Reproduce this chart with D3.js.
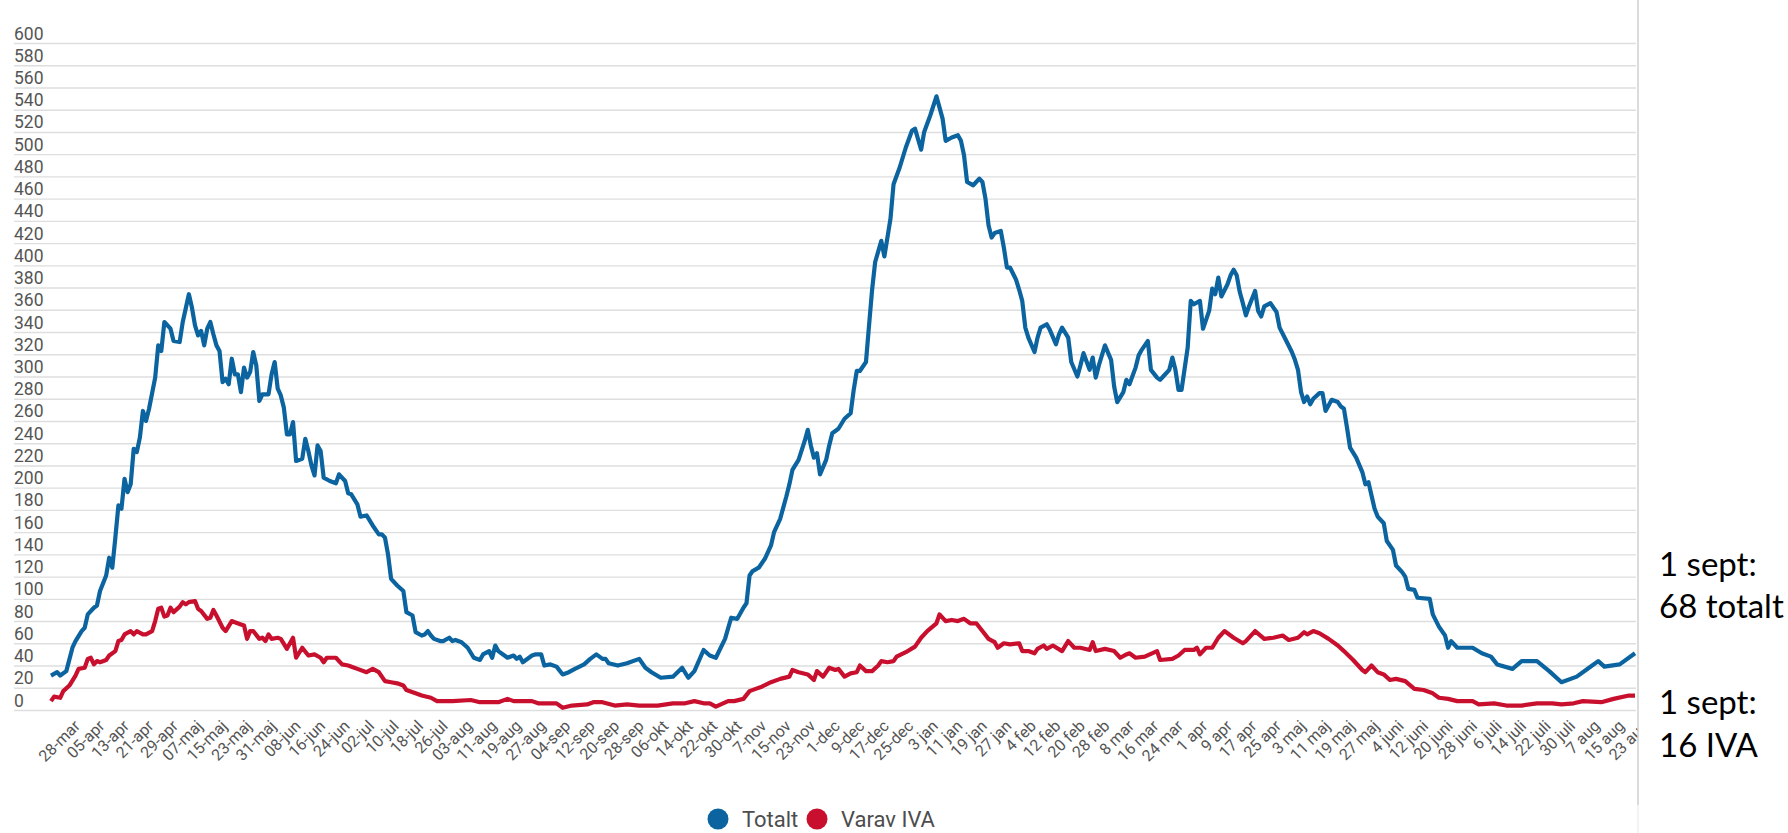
<!DOCTYPE html>
<html>
<head>
<meta charset="utf-8">
<script src="https://cdn.jsdelivr.net/npm/d3@7/dist/d3.min.js"></script>
<style>
  body { margin: 0; background: #fff; }
  svg { display: block; }
</style>
</head>
<body>
<svg width="1788" height="833"></svg>
<script>
// days counted from the first data point, 2020-03-19
const startDate = Date.UTC(2020, 2, 19);
const lastDay = 517;

const totaltDays = [0,2,3,5,7,8,10,11,12,14,15,16,18,19,20,21,22,23,24,25,26,27,28,29,30,31,32,34,35,36,37,39,40,42,43,45,46,47,48,49,50,51,52,53,54,55,56,57,58,59,60,61,62,63,64,65,66,67,68,69,71,72,73,74,75,76,77,78,79,80,82,83,84,85,86,87,88,89,91,93,94,96,97,98,100,101,103,105,107,108,109,110,111,113,115,116,118,119,121,122,123,124,125,127,128,130,131,132,134,136,138,140,141,143,144,145,146,148,149,151,152,153,154,157,158,160,161,163,165,167,169,171,174,176,178,180,181,182,185,188,192,194,196,199,203,206,208,210,213,215,217,220,222,224,226,227,228,229,231,233,235,236,238,240,241,242,244,246,247,248,249,250,251,253,254,255,257,259,261,262,263,264,266,267,268,269,271,272,274,275,277,279,281,282,284,285,287,289,291,292,294,296,297,298,299,301,303,304,305,306,307,308,310,311,312,313,315,316,317,318,319,321,322,323,325,326,328,329,330,332,333,335,336,337,339,340,341,342,344,346,347,348,350,351,352,354,355,356,358,359,361,362,363,365,366,367,368,369,371,372,373,375,376,378,379,380,381,382,384,385,386,387,388,389,390,391,393,394,395,396,398,399,400,401,403,405,406,407,408,409,410,411,412,414,415,416,418,420,421,422,423,424,426,428,429,430,432,433,435,436,438,439,441,442,443,445,446,450,451,453,455,456,457,459,464,467,470,472,477,480,485,489,493,498,502,505,507,512,517];
const totaltValues = [31,34,31,35,56,62,71,74,86,92,94,107,121,137,128,155,184,181,208,196,203,235,232,245,269,260,271,299,328,323,349,343,332,331,349,374,362,346,337,341,328,343,349,338,328,323,295,298,293,316,302,302,286,308,299,304,322,310,278,284,284,302,313,289,283,272,248,248,259,224,226,244,233,220,211,238,233,209,206,204,212,206,195,194,185,174,175,166,158,158,155,140,118,112,107,88,85,70,67,68,71,67,64,62,62,65,62,63,61,56,47,45,50,53,47,58,53,49,47,49,46,48,43,49,50,50,40,41,39,32,34,37,41,46,50,46,46,42,40,42,46,38,34,29,30,38,29,35,54,49,47,64,83,82,92,96,121,125,128,136,148,160,172,192,203,216,225,242,252,238,227,231,212,225,238,249,253,262,267,288,305,305,313,346,378,403,422,408,442,473,488,506,521,523,504,520,535,552,532,512,515,517,512,499,475,472,478,475,460,436,425,429,431,416,398,398,387,378,368,344,335,322,335,344,347,342,329,338,344,335,313,300,310,321,306,317,299,310,328,315,291,277,286,297,293,308,319,324,332,306,299,297,300,306,317,306,288,288,326,368,365,368,343,359,379,374,389,372,383,391,396,391,376,366,355,363,377,359,354,363,366,362,358,344,333,322,315,306,286,277,282,275,280,285,285,269,279,277,273,271,254,236,227,214,203,205,181,174,168,152,144,130,124,120,109,108,101,100,86,75,67,56,62,56,56,51,48,41,37,44,44,35,25,30,38,44,39,41,51];

const ivaDays = [0,1,3,4,6,8,9,11,12,13,14,15,16,18,19,21,22,23,24,26,27,28,30,31,33,34,35,36,37,38,39,40,42,43,44,45,47,48,49,51,52,53,54,56,57,59,60,62,63,64,65,66,68,69,70,71,72,74,75,77,79,80,82,84,86,88,89,90,93,95,97,99,100,103,105,107,109,111,113,115,116,119,121,124,126,129,131,137,140,146,149,151,157,159,165,167,170,175,177,180,184,188,192,198,203,207,210,213,215,217,221,223,226,228,230,232,235,238,241,242,244,247,249,250,252,254,256,257,259,261,263,264,266,268,270,271,273,275,276,279,282,284,286,289,290,292,294,296,298,300,302,304,306,308,309,311,313,316,317,319,321,322,324,325,327,330,332,334,336,339,340,341,344,347,349,351,352,354,357,361,362,366,368,370,373,374,375,377,379,381,383,386,389,390,393,396,399,402,404,407,409,410,412,414,417,420,422,425,428,429,431,433,435,437,439,442,445,448,451,453,456,459,464,466,471,475,480,485,490,493,497,500,506,510,515,517];
const ivaValues = [8,12,11,17,22,31,37,38,46,47,41,44,43,45,49,53,62,63,68,71,68,71,68,68,71,80,91,92,84,85,92,88,93,97,95,97,98,91,89,82,83,90,85,74,71,80,79,77,76,64,71,71,64,65,62,68,64,65,64,55,65,47,56,49,50,47,43,47,47,41,40,38,37,34,37,34,26,25,24,22,18,15,13,11,8,8,8,9,7,7,10,8,8,6,6,2,4,5,7,7,4,5,4,4,6,6,8,6,6,3,8,8,10,17,19,21,25,28,30,36,34,32,27,35,30,38,36,37,30,33,34,40,35,35,40,44,43,44,48,52,57,65,71,78,86,80,81,80,82,78,78,71,64,61,56,60,59,60,53,53,51,55,58,55,58,53,62,56,56,54,61,53,55,53,47,50,51,47,48,53,45,46,49,54,54,56,50,56,56,65,71,65,60,62,71,64,65,67,63,65,70,68,71,69,64,58,53,45,36,34,40,34,32,27,28,26,19,18,15,11,10,8,8,5,6,4,4,6,6,5,6,8,7,10,13,13];

const yTicks = [0,20,40,60,80,100,120,140,160,180,200,220,240,260,280,300,320,340,360,380,400,420,440,460,480,500,520,540,560,580,600];

// one label every 8 days from 28 March 2020
const firstTick = Date.UTC(2020, 2, 28);
const tickLabels = ["28-mar","05-apr","13-apr","21-apr","29-apr","07-maj","15-maj","23-maj","31-maj","08-jun","16-jun","24-jun","02-jul","10-jul","18-jul","26-jul","03-aug","11-aug","19-aug","27-aug","04-sep","12-sep","20-sep","28-sep","06-okt","14-okt","22-okt","30-okt","7-nov","15-nov","23-nov","1-dec","9-dec","17-dec","25-dec","3 jan","11 jan","19 jan","27 jan","4 feb","12 feb","20 feb","28 feb","8 mar","16 mar","24 mar","1 apr","9 apr","17 apr","25 apr","3 maj","11 maj","19 maj","27 maj","4 juni","12 juni","20 juni","28 juni","6 juli","14 juli","22 juli","30 juli","7 aug","15 aug","23 aug"];

const seriesNames = ["Totalt", "Varav IVA"];
const seriesColors = ["#0b649f", "#c8102e"];

const notes = [["1 sept:", "68 totalt"], ["1 sept:", "16 IVA"]];

const dayToDate = d => new Date(startDate + d * 864e5);

const svg = d3.select("svg");

const x = d3.scaleUtc()
  .domain([dayToDate(0), dayToDate(lastDay)])
  .range([51, 1635]);
const y = d3.scaleLinear().domain([0, 600]).range([710, 43]);

svg.append("defs").append("clipPath").attr("id", "cut")
  .append("rect").attr("x", 0).attr("y", 0).attr("width", 1638).attr("height", 833);

// gridlines + y labels
const yAxis = svg.append("g")
  .attr("transform", "translate(14,0)")
  .call(d3.axisRight(y).tickValues(yTicks).tickSize(1622));
yAxis.select(".domain").remove();
yAxis.selectAll(".tick line").attr("stroke", "#dedede").attr("stroke-width", 1.4);
yAxis.selectAll(".tick text")
  .attr("x", 0).attr("y", -4).attr("dy", null)
  .attr("text-anchor", "start")
  .attr("fill", "#555")
  .style("font", "17.5px Roboto");

// x labels
const tickDates = tickLabels.map((t, i) => new Date(firstTick + i * 8 * 864e5));
const xAxis = svg.append("g")
  .attr("clip-path", "url(#cut)")
  .append("g")
  .attr("transform", "translate(0,727)")
  .call(d3.axisBottom(x).tickValues(tickDates).tickFormat((d, i) => tickLabels[i]).tickSize(0));
xAxis.select(".domain").remove();
xAxis.selectAll(".tick text")
  .attr("y", 0).attr("dy", null)
  .attr("transform", "translate(2,0) rotate(-45)")
  .attr("text-anchor", "end")
  .attr("fill", "#555")
  .style("font", "16px Roboto");

// lines
const line = d3.line().x(d => x(d.date)).y(d => y(d.v));
const series = [
  totaltDays.map((d, i) => ({date: dayToDate(d), v: totaltValues[i]})),
  ivaDays.map((d, i) => ({date: dayToDate(d), v: ivaValues[i]}))
];
svg.append("g").attr("clip-path", "url(#cut)")
  .selectAll("path")
  .data(series)
  .enter().append("path")
  .attr("d", line)
  .attr("fill", "none")
  .attr("stroke", (d, i) => seriesColors[i])
  .attr("stroke-width", 4.2)
  .attr("stroke-linejoin", "round");

// right border of the cropped chart
svg.append("line").attr("x1", 1638).attr("x2", 1638).attr("y1", 0).attr("y2", 805)
  .attr("stroke", "#cfcfcf").attr("stroke-width", 1.5);
svg.append("line").attr("x1", 1638).attr("x2", 1638).attr("y1", 805).attr("y2", 833)
  .attr("stroke", "#efefef").attr("stroke-width", 1.5);

// legend
const legendX = [718, 817];
const legend = svg.append("g").selectAll("g")
  .data(seriesNames)
  .enter().append("g")
  .attr("transform", (d, i) => "translate(" + legendX[i] + ",819)");
legend.append("circle").attr("r", 10.5).attr("fill", (d, i) => seriesColors[i]);
legend.append("text")
  .attr("x", 24).attr("y", 8)
  .attr("fill", "#4d4d4d")
  .style("font", "22px Roboto")
  .text(d => d);

// annotation
const noteY = [[576, 618], [714, 757]];
notes.forEach((n, j) => {
  n.forEach((t, k) => {
    svg.append("text")
      .attr("x", 1659).attr("y", noteY[j][k])
      .attr("fill", "#000")
      .style("font", "33px Lato")
      .text(t);
  });
});
</script>
</body>
</html>
